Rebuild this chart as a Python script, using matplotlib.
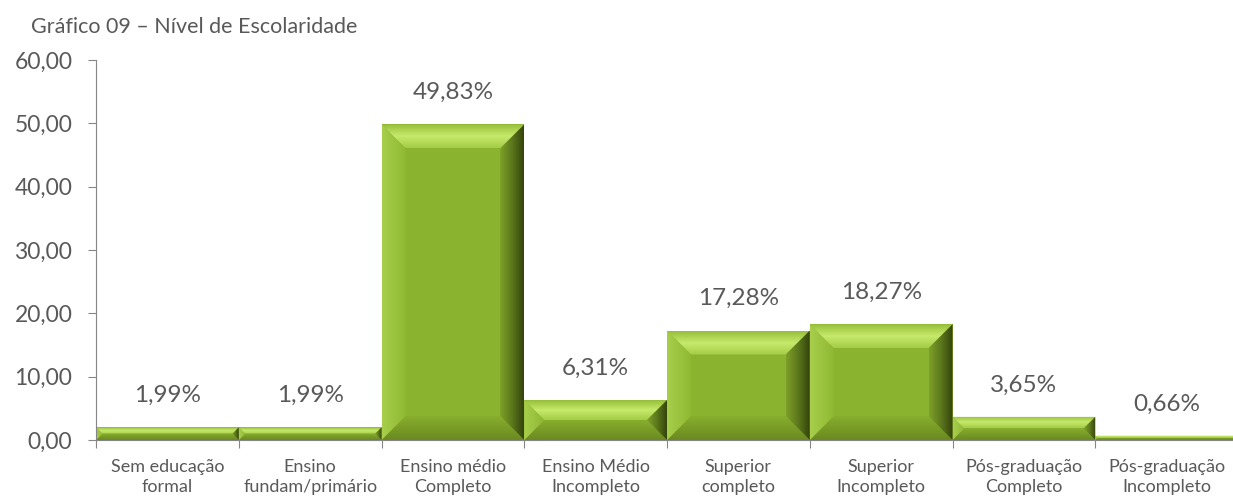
import numpy as np
import matplotlib.pyplot as plt
from matplotlib.patches import Polygon
from matplotlib.colors import LinearSegmentedColormap

categories = ['Sem educação\nformal', 'Ensino\nfundam/primário', 'Ensino médio\nCompleto',
              'Ensino Médio\nIncompleto', 'Superior\ncompleto', 'Superior\nIncompleto',
              'Pós-graduação\nCompleto', 'Pós-graduação\nIncompleto']
values = [1.99, 1.99, 49.83, 6.31, 17.28, 18.27, 3.65, 0.66]
labels = ['1,99%', '1,99%', '49,83%', '6,31%', '17,28%', '18,27%', '3,65%', '0,66%']
yticks = [0, 10, 20, 30, 40, 50, 60]

plt.rcParams['font.family'] = ['Lato', 'DejaVu Sans']
grey = '#595959'

W, H = 1233, 500
fig = plt.figure(figsize=(W / 100, H / 100), dpi=100)
ax_l, ax_r, ax_b, ax_t = 96, 1238, 440, 60   # pixel box of the plot area
ax = fig.add_axes([ax_l / W, 1 - ax_b / H, (ax_r - ax_l) / W, (ax_b - ax_t) / H])
n = len(values)
ax.set_xlim(0, n)
ax.set_ylim(0, 60)

# pixel -> data scale
px_x = n / (ax_r - ax_l)
px_y = 60 / (ax_b - ax_t)
bev = 24  # bevel size in px

def cm(cols):
    return LinearSegmentedColormap.from_list('g', cols)

c_top = cm(['#97bf3a', '#c6ea6c', '#a4cc46'])
c_left = cm(['#a8cf4c', '#8fb833'])
c_right = cm(['#7e9f2a', '#5c781c', '#35440c'])
c_bot = cm(['#88ae2e', '#6a8a20'])

def facet(pts, cmap, direction, ext):
    poly = Polygon(pts, closed=True, facecolor='none', edgecolor='none')
    ax.add_patch(poly)
    g = np.linspace(0, 1, 64)
    if direction == 'v':
        arr = g[:, None] * np.ones((1, 2))
    else:
        arr = np.ones((2, 1)) * g[None, :]
    im = ax.imshow(arr, cmap=cmap, extent=ext, origin='upper', aspect='auto',
                   interpolation='bilinear', zorder=2)
    im.set_clip_path(poly)

for i, v in enumerate(values):
    x0, x1 = i, i + 1
    y0, y1 = 0, v
    hpx = v / px_y
    b = min(bev, hpx / 2)
    bx, by = b * px_x, b * px_y
    ax.add_patch(Polygon([(x0, y0), (x1, y0), (x1, y1), (x0, y1)], closed=True,
                         facecolor='#8ab32f', edgecolor='none', zorder=1.5))
    # top
    facet([(x0, y1), (x1, y1), (x1 - bx, y1 - by), (x0 + bx, y1 - by)],
          c_top, 'v', (x0, x1, y1 - by, y1))
    # bottom
    facet([(x0, y0), (x1, y0), (x1 - bx, y0 + by), (x0 + bx, y0 + by)],
          c_bot, 'v', (x0, x1, y0, y0 + by))
    # left
    facet([(x0, y0), (x0 + bx, y0 + by), (x0 + bx, y1 - by), (x0, y1)],
          c_left, 'h', (x0, x0 + bx, y0, y1))
    # right
    facet([(x1, y0), (x1 - bx, y0 + by), (x1 - bx, y1 - by), (x1, y1)],
          c_right, 'h', (x1 - bx, x1, y0, y1))
    ax.annotate(labels[i], (i + 0.5, v), xytext=(0, 23), textcoords='offset points',
                ha='center', va='center', fontsize=17.5, color=grey)

ax.set_yticks(yticks)
ax.set_yticklabels(['%d,00' % t for t in yticks], fontsize=16.5, color=grey)
ax.set_xticks(np.arange(n + 1))
ax.set_xticklabels([])
ax.set_xticks(np.arange(n) + 0.5, minor=True)
ax.set_xticklabels(categories, minor=True, fontsize=13, color=grey, linespacing=1.3)
ax.tick_params(axis='x', which='minor', length=0, pad=14)
ax.tick_params(axis='x', which='major', length=6, color='#868686')
ax.tick_params(axis='y', length=6, color='#868686', pad=11)
for s in ['top', 'right']:
    ax.spines[s].set_visible(False)
for s in ['left', 'bottom']:
    ax.spines[s].set_color('#868686')
    ax.spines[s].set_zorder(3)

fig.text(31 / W, 1 - 33 / H, 'Gráfico 09 – Nível de Escolaridade', fontsize=15.5,
         color=grey, va='baseline', ha='left')

fig.savefig('out.png', dpi=100)
